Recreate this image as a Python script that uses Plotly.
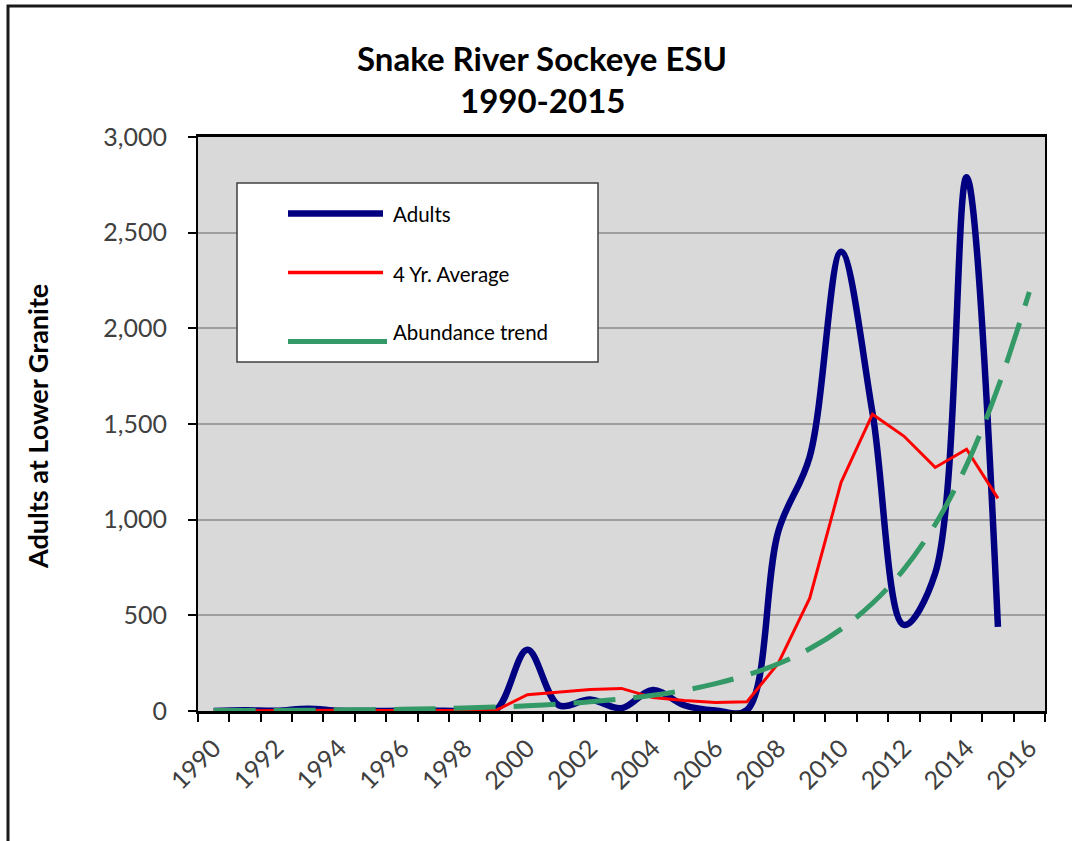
import plotly.graph_objects as go

# Return years on the category axis (the trend line runs one year further)
years = [str(y) for y in range(1990, 2017)]
adult_years = years[:26]

# Adult sockeye counted at Lower Granite Dam
adults = [0, 4, 1, 12, 1, 0, 1, 1, 1, 7, 320, 30, 60, 15, 110, 30, 3, 5,
          940, 1330, 2400, 1560, 450, 720, 2790, 440]

# Four-year running average
avg4 = [0, 2, 2, 4, 4, 3, 3, 1, 1, 3, 85, 100, 112, 118, 70, 55, 45, 48,
        250, 590, 1195, 1551, 1437, 1273, 1368, 1111]

# Abundance trend (1990-2016)
trend = [2, 2, 3, 4, 5, 7, 9, 12, 16, 21, 27, 36, 48, 63, 82, 108, 143, 188,
         247, 325, 428, 563, 740, 975, 1285, 1690, 2190]

y_ticks = [0, 500, 1000, 1500, 2000, 2500, 3000]
x_labels = [y if int(y) % 2 == 0 else "" for y in years]

NAVY = "#000080"
RED = "#FF0000"
GREEN = "#339966"
FONT = "Lato"
TXT = "#404040"

fig = go.Figure()

# drawn bottom to top: adults, average, trend
fig.add_trace(go.Scatter(
    x=adult_years, y=adults, mode="lines", name="Adults",
    line=dict(color=NAVY, width=6.5, shape="spline", smoothing=1),
))
fig.add_trace(go.Scatter(
    x=adult_years, y=avg4, mode="lines", name="4 Yr. Average",
    line=dict(color=RED, width=3),
))
fig.add_trace(go.Scatter(
    x=years, y=trend, mode="lines", name="Abundance trend",
    line=dict(color=GREEN, width=5, dash="42px,18px", shape="spline", smoothing=1),
))

# Plot area spans x 198..1045 px and y 137..711 px
L, R, T, B = 198, 1045, 137, 711


def px(x):
    return (x - L) / (R - L)


def py(y):
    return (B - y) / (B - T)


shapes = [
    # outer chart border
    dict(type="rect", xref="paper", yref="paper",
         x0=px(8), x1=px(1140), y0=py(1000), y1=py(6),
         line=dict(color="#1a1a1a", width=3), fillcolor="rgba(0,0,0,0)", layer="below"),
    # legend box
    dict(type="rect", xref="paper", yref="paper",
         x0=px(237), x1=px(598), y0=py(362), y1=py(183),
         line=dict(color="#404040", width=1.5), fillcolor="white"),
    dict(type="line", xref="paper", yref="paper",
         x0=px(288), x1=px(383), y0=py(213.5), y1=py(213.5),
         line=dict(color=NAVY, width=6.5)),
    dict(type="line", xref="paper", yref="paper",
         x0=px(288), x1=px(383), y0=py(272.5), y1=py(272.5),
         line=dict(color=RED, width=3.5)),
    dict(type="line", xref="paper", yref="paper",
         x0=px(288), x1=px(387), y0=py(341.5), y1=py(341.5),
         line=dict(color=GREEN, width=5)),
]

annotations = [
    dict(text="<b>Snake River Sockeye ESU</b>", xref="paper", yref="paper",
         x=px(542), y=py(58), xanchor="center", yanchor="middle", showarrow=False,
         font=dict(family=FONT, size=33, color="black")),
    dict(text="<b>1990-2015</b>", xref="paper", yref="paper",
         x=px(542), y=py(100), xanchor="center", yanchor="middle", showarrow=False,
         font=dict(family=FONT, size=33, color="black")),
    dict(text="<b>Adults at Lower Granite</b>", xref="paper", yref="paper",
         x=px(37), y=py(427), xanchor="center", yanchor="middle", showarrow=False,
         textangle=-90, font=dict(family=FONT, size=27, color="black")),
]
for label, yy in [("Adults", 214), ("4 Yr. Average", 274), ("Abundance trend", 332)]:
    annotations.append(dict(
        text=label, xref="paper", yref="paper", x=px(391), y=py(yy),
        xanchor="left", yanchor="middle", showarrow=False,
        font=dict(family=FONT, size=20.5, color="black")))

fig.update_layout(
    width=1072, height=841,
    margin=dict(l=L, r=1072 - R, t=T, b=841 - B, autoexpand=False),
    paper_bgcolor="white", plot_bgcolor="#D9D9D9",
    showlegend=False,
    shapes=shapes, annotations=annotations,
    font=dict(family=FONT, color=TXT),
    xaxis=dict(
        type="category", categoryorder="array", categoryarray=years,
        range=[-0.5, 26.5], tickmode="array", tickvals=years, ticktext=x_labels,
        tickson="boundaries", ticks="outside", ticklen=8, tickwidth=1.5, tickcolor="black",
        tickangle=-45, ticklabelstandoff=10,
        tickfont=dict(family=FONT, size=25, color=TXT),
        showgrid=False, showline=True, linecolor="black", linewidth=2.5, mirror=True,
        zeroline=False,
    ),
    yaxis=dict(
        range=[0, 3000], tickmode="array", tickvals=y_ticks, tickformat=",",
        ticks="outside", ticklen=8, tickwidth=1.5, tickcolor="black",
        ticklabelstandoff=16,
        tickfont=dict(family=FONT, size=25, color=TXT),
        showgrid=True, gridcolor="#9E9E9E", gridwidth=1.5,
        showline=True, linecolor="black", linewidth=2, mirror=True, zeroline=False,
    ),
)

fig.write_html("out.html")
